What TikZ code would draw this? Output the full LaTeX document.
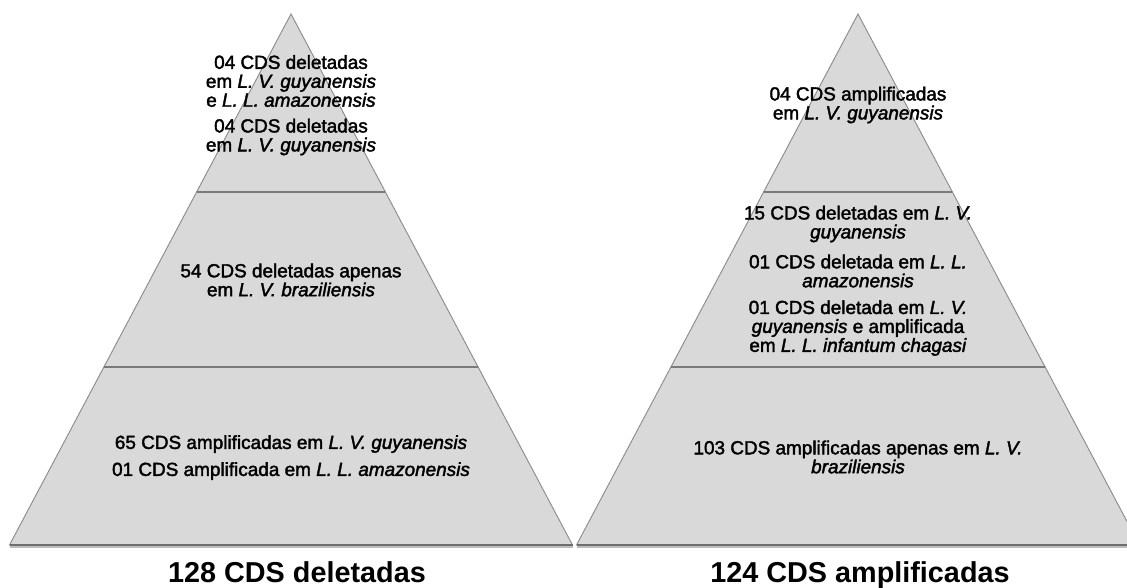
\documentclass[tikz,border=0pt]{standalone}
\usepackage{fontspec}
\setmainfont{Liberation Sans}
\newfontfamily\pyrfont{Liberation Sans}[FakeBold=2]
\definecolor{pyrfill}{HTML}{D9D9D9}
\definecolor{pyrline}{HTML}{8C8C8C}
\definecolor{divline}{HTML}{7A7A7A}
\definecolor{baseline}{HTML}{6E6E6E}
\definecolor{shadowc}{HTML}{BDBDBD}
\begin{document}
\begin{tikzpicture}[x=0.75pt,y=-0.75pt,
  layer/.style={fill=pyrfill,draw=pyrline,line width=0.7pt,line join=miter},
  divider/.style={draw=divline,line width=0.8pt},
  baseedge/.style={draw=baseline,line width=1.1pt},
  shadowedge/.style={draw=shadowc,line width=1.6pt},
  txt/.style={align=center,font=\pyrfont\fontsize{14.2}{14.2}\selectfont,inner sep=0pt},
  total/.style={anchor=base,font=\fontsize{21.6}{24}\selectfont\bfseries,inner sep=0pt}]
\useasboundingbox (0,0) rectangle (1127,587);
\clip (0,0) rectangle (1127,587);
\foreach \cx in {291,858}{
  \draw[shadowedge] (\cx-281,546.6) -- (\cx+282,546.6);
  \draw[layer] (\cx-281.5,545) -- (\cx-187.1,367) -- (\cx+187.1,367) -- (\cx+281.5,545) -- cycle;
  \draw[layer] (\cx-187.1,367) -- (\cx-94.4,192) -- (\cx+94.4,192) -- (\cx+187.1,367) -- cycle;
  \draw[layer] (\cx,14) -- (\cx+94.4,192) -- (\cx-94.4,192) -- cycle;
  \draw[divider] (\cx-94.4,192) -- (\cx+94.4,192);
  \draw[divider] (\cx-187.1,367) -- (\cx+187.1,367);
  \draw[baseedge] (\cx-281.5,545) -- (\cx+281.5,545);
}
% left pyramid texts
\node[txt] (l1) at (291,81) {04 CDS deletadas\\em \textit{L. V. guyanensis}\\e \textit{L. L. amazonensis}};
\node[txt] (l2) at (291,137) {04 CDS deletadas\\em \textit{L. V. guyanensis}};
\node[txt] (l3) at (291,280) {54 CDS deletadas apenas\\em \textit{L. V. braziliensis}};
\node[txt] (l4) at (291,444) {65 CDS amplificadas em \textit{L. V. guyanensis}};
\node[txt] (l5) at (291,471) {01 CDS amplificada em \textit{L. L. amazonensis}};
\node[total] (ltot) at (297,582) {128 CDS deletadas};
% right pyramid texts
\node[txt] (r1) at (858,105) {04 CDS amplificadas\\em \textit{L. V. guyanensis}};
\node[txt] (r2) at (858,224) {15 CDS deletadas em \textit{L. V.}\\\textit{guyanensis}};
\node[txt] (r3) at (858,271) {01 CDS deletada em \textit{L. L.}\\\textit{amazonensis}};
\node[txt] (r4) at (858,328) {01 CDS deletada em \textit{L. V.}\\\textit{guyanensis} e amplificada\\em \textit{L. L. infantum chagasi}};
\node[txt] (r5) at (858,457) {103 CDS amplificadas apenas em \textit{L. V.}\\\textit{braziliensis}};
\node[total] (rtot) at (860,582) {124 CDS amplificadas};
\end{tikzpicture}
\end{document}
